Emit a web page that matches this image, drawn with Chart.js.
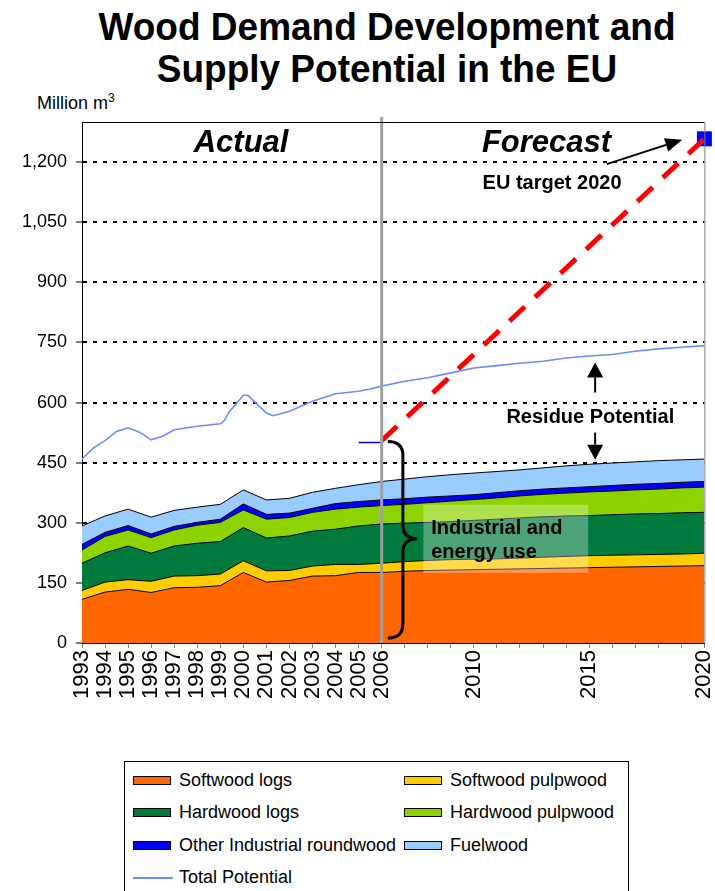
<!DOCTYPE html>
<html>
<head>
<meta charset="utf-8">
<script src="https://cdn.jsdelivr.net/npm/chart.js@4.4.0/dist/chart.umd.min.js"></script>
<style>
  html, body { margin: 0; padding: 0; background: #fff; }
  body { width: 715px; height: 891px; position: relative; overflow: hidden;
         font-family: "Liberation Sans", Arial, sans-serif; color: #000; }
  #chart { position: absolute; left: 0; top: 0; }
  #title { position: absolute; left: 0; top: 6px; width: 774px; text-align: center;
           font-weight: bold; font-size: 37px; line-height: 40px;
           transform: scaleY(1.06); transform-origin: 0 0; }
  #unit { position: absolute; left: 37px; top: 93px; font-size: 18px; line-height: 20px; }
  #unit sup { font-size: 12px; vertical-align: 7px; line-height: 0; }
  #legend { position: absolute; left: 124px; top: 761px; width: 505px; height: 150px;
            border: 1px solid #000; box-sizing: border-box; background: #fff; }
  .item { position: absolute; height: 20px; font-size: 18px; line-height: 20px; white-space: nowrap; }
  .swatch { position: absolute; left: 0; top: 6px; width: 38px; height: 9px;
            border: 1px solid #000; box-sizing: border-box; }
  .lineswatch { position: absolute; left: 0; top: 10px; width: 40px; height: 2px; }
  .item span { position: absolute; left: 46px; top: 0; }
</style>
</head>
<body>
<div id="title">Wood Demand Development and<br>Supply Potential in the EU</div>
<div id="unit">Million m<sup>3</sup></div>
<canvas id="chart" width="715" height="891"></canvas>
<div id="legend"></div>
<script>
// ---- Demand by assortment, million m3 (1993-2006 actual, 2007-2020 forecast) ----
const years = [1993, 1994, 1995, 1996, 1997, 1998, 1999, 2000, 2001, 2002, 2003, 2004, 2005, 2006,
               2007, 2008, 2009, 2010, 2011, 2012, 2013, 2014, 2015, 2016, 2017, 2018, 2019, 2020];
const softwoodLogs      = [109, 127, 134, 126, 138, 139, 143, 176, 152, 156, 167, 168, 176, 176,
                           179, 181, 182, 183, 184, 185, 186, 187, 188, 189, 190, 191, 192, 193];
const softwoodPulpwood  = [22, 25, 24, 28, 29, 29, 29, 29, 28, 25, 25, 28, 20, 23,
                           24, 25, 26, 26, 26, 27, 28, 29, 30, 30, 30, 30, 30, 31];
const hardwoodLogs      = [68, 73, 84, 70, 75, 81, 81, 83, 82, 86, 87, 88, 96, 98,
                           96, 95, 95, 97, 99, 100, 101, 101, 100, 101, 102, 102, 103, 102];
const hardwoodPulpwood  = [33, 41, 40, 39, 40, 45, 48, 44, 47, 46, 47, 50, 47, 46,
                           47, 49, 51, 52, 53, 55, 56, 57, 59, 59, 60, 61, 62, 63];
const otherIndustrial   = [14, 10, 11, 9, 9, 7, 8, 15, 12, 11, 10, 14, 14, 14,
                           14, 14, 13, 12, 13, 13, 13, 13, 13, 14, 14, 14, 14, 14];
const fuelwood          = [46, 41, 41, 42, 40, 38, 37, 35, 36, 37, 40, 38, 42, 46,
                           49, 51, 53, 54, 53, 52, 53, 55, 56, 56, 56, 57, 56, 56];

// ---- Total supply potential ----
const potentialYears  = [1993, 1993.5, 1994, 1994.5, 1995, 1995.5, 1996, 1996.5, 1997, 1998, 1999,
                         1999.2, 1999.35, 2000, 2000.2, 2001, 2001.3, 2002, 2003, 2004, 2005, 2005.5,
                         2006, 2007, 2008, 2009, 2010, 2011, 2012, 2013, 2014, 2015, 2016, 2017, 2018, 2019, 2020];
const potentialValues = [459, 487, 505, 528, 537, 526, 507, 516, 532, 541, 547,
                         557, 574, 618, 618, 574, 567, 578, 603, 622, 628, 634,
                         641, 653, 662, 674, 686, 692, 698, 703, 711, 716, 720, 728, 734, 738, 742];

// ---- Path to the EU 2020 target ----
const targetYears  = [2006, 2020];
const targetValues = [505, 1258];
const usageMarkYears  = [2005, 2006];
const usageMarkValues = [500, 500];

// ---- Axis ticks ----
const yTicks = [0, 150, 300, 450, 600, 750, 900, 1050, 1200];
const xLabelYears = [1993, 1994, 1995, 1996, 1997, 1998, 1999, 2000, 2001, 2002, 2003, 2004, 2005, 2006,
                     2010, 2015, 2020];

const series = [
  { label: 'Softwood logs',              values: softwoodLogs,     color: '#FF6600' },
  { label: 'Softwood pulpwood',          values: softwoodPulpwood, color: '#FFCC00' },
  { label: 'Hardwood logs',              values: hardwoodLogs,     color: '#007A3D' },
  { label: 'Hardwood pulpwood',          values: hardwoodPulpwood, color: '#8DD300' },
  { label: 'Other Industrial roundwood', values: otherIndustrial,  color: '#0000FF' },
  { label: 'Fuelwood',                   values: fuelwood,         color: '#99CCFF' }
];
const potentialColor = '#6A8CFF';
const FONT = '"Liberation Sans", Arial, sans-serif';

const pairs = (xs, ys) => xs.map((x, i) => ({ x: x, y: ys[i] }));

const datasets = series.map((s, i) => ({
  label: s.label,
  data: pairs(years, s.values),
  backgroundColor: s.color,
  borderColor: '#000',
  borderWidth: 1,
  fill: i === 0 ? 'origin' : '-1',
  pointRadius: 0,
  tension: 0,
  stack: 'demand',
  order: 1
}));
datasets.push({
  label: 'Total Potential',
  data: pairs(potentialYears, potentialValues),
  borderColor: potentialColor,
  borderWidth: 1.6,
  fill: false, pointRadius: 0, tension: 0,
  stack: 'potential', order: 0
});
datasets.push({
  label: 'Target path',
  data: pairs(targetYears, targetValues),
  borderColor: '#FF0000',
  borderWidth: 5,
  borderDash: [21, 14],
  borderCapStyle: 'butt',
  fill: false, pointRadius: 0, tension: 0,
  stack: 'target', order: 0
});
datasets.push({
  label: 'EU target 2020',
  data: pairs(targetYears.slice(1), targetValues.slice(1)),
  showLine: false,
  pointStyle: 'rect',
  pointRadius: 10.6,
  pointBackgroundColor: '#0000FF',
  pointBorderWidth: 0,
  clip: false,
  stack: 'targetPoint', order: 0
});
datasets.push({
  label: 'Current use',
  data: pairs(usageMarkYears, usageMarkValues),
  borderColor: '#0000FF',
  borderWidth: 1.5,
  fill: false, pointRadius: 0, tension: 0,
  stack: 'usage', order: 0
});

// Arrow helper
function arrow(ctx, x1, y1, x2, y2, headLen, headW, width) {
  const a = Math.atan2(y2 - y1, x2 - x1);
  const bx = x2 - headLen * Math.cos(a), by = y2 - headLen * Math.sin(a);
  ctx.lineWidth = width;
  ctx.beginPath(); ctx.moveTo(x1, y1); ctx.lineTo(bx, by); ctx.stroke();
  ctx.beginPath();
  ctx.moveTo(x2, y2);
  ctx.lineTo(bx + headW / 2 * Math.sin(a), by - headW / 2 * Math.cos(a));
  ctx.lineTo(bx - headW / 2 * Math.sin(a), by + headW / 2 * Math.cos(a));
  ctx.closePath(); ctx.fill();
}

const decorations = {
  id: 'decorations',
  afterDatasetsDraw(chart) {
    const { ctx, chartArea: ca, scales: { x } } = chart;
    ctx.save();
    // divider between actual and forecast
    const xd = x.getPixelForValue(2006);
    ctx.strokeStyle = '#A0A0A0'; ctx.lineWidth = 3;
    ctx.beginPath(); ctx.moveTo(xd, ca.top - 5); ctx.lineTo(xd, ca.bottom); ctx.stroke();
    // plot frame (top and right)
    ctx.lineWidth = 1;
    ctx.strokeStyle = '#000';
    ctx.beginPath(); ctx.moveTo(ca.left, ca.top + 0.5); ctx.lineTo(ca.right, ca.top + 0.5); ctx.stroke();
    ctx.strokeStyle = '#808080';
    ctx.beginPath(); ctx.moveTo(ca.right + 0.5, ca.top); ctx.lineTo(ca.right + 0.5, ca.bottom); ctx.stroke();
    ctx.restore();
  },
  afterDraw(chart) {
    const { ctx, scales: { x, y } } = chart;
    const P = (yr, v) => [x.getPixelForValue(yr), y.getPixelForValue(v)];
    ctx.save();
    ctx.fillStyle = '#000'; ctx.strokeStyle = '#000';
    ctx.textBaseline = 'alphabetic';

    // section headings
    ctx.font = 'italic bold 31px ' + FONT;
    ctx.textAlign = 'center';
    let p = P(1999.9, 1224); ctx.fillText('Actual', p[0], p[1]);
    p = P(2013.15, 1224); ctx.fillText('Forecast', p[0], p[1]);

    // target note
    ctx.font = 'bold 20px ' + FONT;
    p = P(2013.39, 1134); ctx.fillText('EU target 2020', p[0], p[1]);
    let a = P(2015.77, 1195), b = P(2019.04, 1256);
    arrow(ctx, a[0], a[1], b[0], b[1], 17, 14, 2);

    // residue potential note
    p = P(2015.05, 549); ctx.fillText('Residue Potential', p[0], p[1]);
    a = P(2015.26, 625); b = P(2015.26, 700);
    arrow(ctx, a[0], a[1], b[0], b[1], 15, 16, 2);
    a = P(2015.26, 525); b = P(2015.26, 457.5);
    arrow(ctx, a[0], a[1], b[0], b[1], 15, 16, 2);

    // brace for industrial and energy use
    const [x0, yTop] = P(2006.27, 502.5);
    const [xm] = P(2006.92, 0);
    const [x1, yMid] = P(2007.56, 260);
    const [, yBot] = P(2006.27, 12.5);
    ctx.lineWidth = 3;
    ctx.beginPath();
    ctx.moveTo(x0, yTop);
    ctx.quadraticCurveTo(xm, yTop, xm, yTop + 14);
    ctx.lineTo(xm, yMid - 14);
    ctx.quadraticCurveTo(xm, yMid, x1, yMid);
    ctx.quadraticCurveTo(xm, yMid, xm, yMid + 14);
    ctx.lineTo(xm, yBot - 14);
    ctx.quadraticCurveTo(xm, yBot, x0, yBot);
    ctx.stroke();

    // label box
    const [bx0, by0] = P(2007.81, 345);
    const [bx1, by1] = P(2014.96, 175);
    ctx.fillStyle = 'rgba(255,255,255,0.3)';
    ctx.fillRect(bx0, by0, bx1 - bx0, by1 - by0);
    ctx.fillStyle = '#000';
    ctx.textAlign = 'left';
    p = P(2008.15, 272.5); ctx.fillText('Industrial and', p[0], p[1]);
    p = P(2008.15, 212.5); ctx.fillText('energy use', p[0], p[1]);
    ctx.restore();
  }
};

const chart = new Chart(document.getElementById('chart'), {
  type: 'line',
  data: { datasets: datasets },
  plugins: [decorations],
  options: {
    responsive: false,
    devicePixelRatio: 1,
    animation: false,
    events: [],
    layout: { padding: { left: 0, right: 6, top: 122, bottom: 178 } },
    plugins: { legend: { display: false }, tooltip: { enabled: false }, title: { display: false } },
    scales: {
      x: {
        type: 'linear', min: 1993, max: 2020,
        afterBuildTicks: s => { s.ticks = years.map(v => ({ value: v })); },
        afterFit: s => { s.height = 70; s.paddingLeft = 0; s.paddingRight = 0; },
        ticks: {
          autoSkip: false, minRotation: 90, maxRotation: 90, padding: 2,
          color: '#000', font: { family: FONT, size: 22 },
          callback: v => xLabelYears.includes(v) ? String(v) : ''
        },
        grid: { drawOnChartArea: false, drawTicks: true, tickLength: 5, tickColor: '#808080', tickWidth: 1 },
        border: { display: true, color: '#000', width: 1 }
      },
      y: {
        type: 'linear', min: 0, max: 1300, stacked: true,
        afterBuildTicks: s => { s.ticks = yTicks.map(v => ({ value: v })); },
        afterFit: s => { s.width = 82; s.paddingTop = 0; s.paddingBottom = 0; },
        ticks: {
          padding: 9, color: '#000', font: { family: FONT, size: 18 },
          callback: v => v.toLocaleString('en-US')
        },
        grid: {
          color: c => (c.tick && c.tick.value === 0) ? 'rgba(0,0,0,0)' : '#000',
          lineWidth: 2, drawTicks: true, tickLength: 6, tickColor: '#000', tickWidth: 1
        },
        border: { display: true, color: '#000', width: 1, dash: [4, 6] }
      }
    }
  }
});

// legend built from the series definitions
const legend = document.getElementById('legend');
const legendItems = series.map(s => ({ label: s.label, color: s.color, line: false }))
  .concat([{ label: 'Total Potential', color: potentialColor, line: true }]);
legendItems.forEach((it, i) => {
  const col = i % 2, row = Math.floor(i / 2);
  const d = document.createElement('div');
  d.className = 'item';
  d.style.left = (col === 0 ? 8 : 279) + 'px';
  d.style.top = (8 + row * 32.3) + 'px';
  const sw = document.createElement('div');
  sw.className = it.line ? 'lineswatch' : 'swatch';
  sw.style.background = it.color;
  const t = document.createElement('span');
  t.textContent = it.label;
  d.appendChild(sw); d.appendChild(t);
  legend.appendChild(d);
});
</script>
</body>
</html>
